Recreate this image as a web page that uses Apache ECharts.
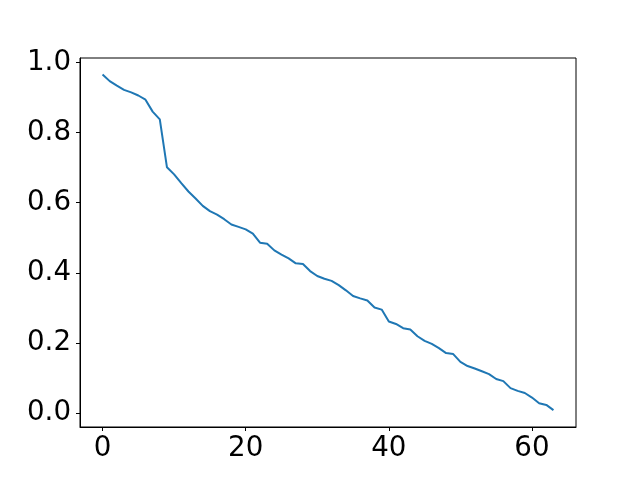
<!DOCTYPE html>
<html>
<head>
<meta charset="utf-8">
<script src="https://cdn.jsdelivr.net/npm/echarts@6/dist/echarts.min.js"></script>
<style>
  html, body { margin: 0; padding: 0; background: #fff; }
  #main { width: 640px; height: 480px; }
</style>
</head>
<body>
<div id="main"></div>
<script>
// values, x = 0..63
var xValues = [];
for (var i = 0; i < 64; i++) { xValues.push(i); }
var yValues = [
  0.966, 0.947, 0.934, 0.922, 0.915, 0.906, 0.894, 0.860, 0.838, 0.701,
  0.681, 0.656, 0.632, 0.612, 0.591, 0.576, 0.566, 0.553, 0.538, 0.531,
  0.524, 0.512, 0.486, 0.483, 0.464, 0.452, 0.441, 0.427, 0.425, 0.405,
  0.391, 0.383, 0.377, 0.365, 0.350, 0.334, 0.327, 0.321, 0.301, 0.295,
  0.261, 0.254, 0.242, 0.238, 0.219, 0.206, 0.197, 0.185, 0.171, 0.168,
  0.146, 0.134, 0.127, 0.119, 0.111, 0.097, 0.091, 0.071, 0.063, 0.057,
  0.044, 0.028, 0.023, 0.008
];
var xTicks = [0, 20, 40, 60];
var yTicks = [0.0, 0.2, 0.4, 0.6, 0.8, 1.0];

var points = xValues.map(function (x, k) { return [x, yValues[k]]; });

var labelFont = {
  fontFamily: 'DejaVu Sans',
  fontSize: 27.7,
  color: '#000'
};

var myChart = echarts.init(document.getElementById('main'), null, { renderer: 'canvas' });
myChart.setOption({
  animation: false,
  backgroundColor: '#fff',
  grid: {
    left: 80, right: 64, top: 58, bottom: 53,
    show: true, borderColor: '#000', borderWidth: 1, backgroundColor: 'transparent'
  },
  xAxis: {
    type: 'value',
    min: -3.15,
    max: 66.15,
    splitLine: { show: false },
    axisLine: { onZero: false, lineStyle: { color: '#000', width: 1 } },
    axisTick: { show: true, inside: false, length: 4, lineStyle: { color: '#000' }, customValues: xTicks },
    axisLabel: Object.assign({ margin: 8, customValues: xTicks }, labelFont)
  },
  yAxis: {
    type: 'value',
    min: -0.040,
    max: 1.013,
    splitLine: { show: false },
    axisLine: { show: true, onZero: false, lineStyle: { color: '#000', width: 1 } },
    axisTick: { show: true, inside: false, length: 4, lineStyle: { color: '#000' }, customValues: yTicks },
    axisLabel: Object.assign({
      margin: 9,
      customValues: yTicks,
      formatter: function (v) { return v.toFixed(1); }
    }, labelFont)
  },
  series: [{
    type: 'line',
    data: points,
    showSymbol: false,
    lineStyle: { color: '#1f77b4', width: 2 },
    itemStyle: { color: '#1f77b4' }
  }]
});
</script>
</body>
</html>
